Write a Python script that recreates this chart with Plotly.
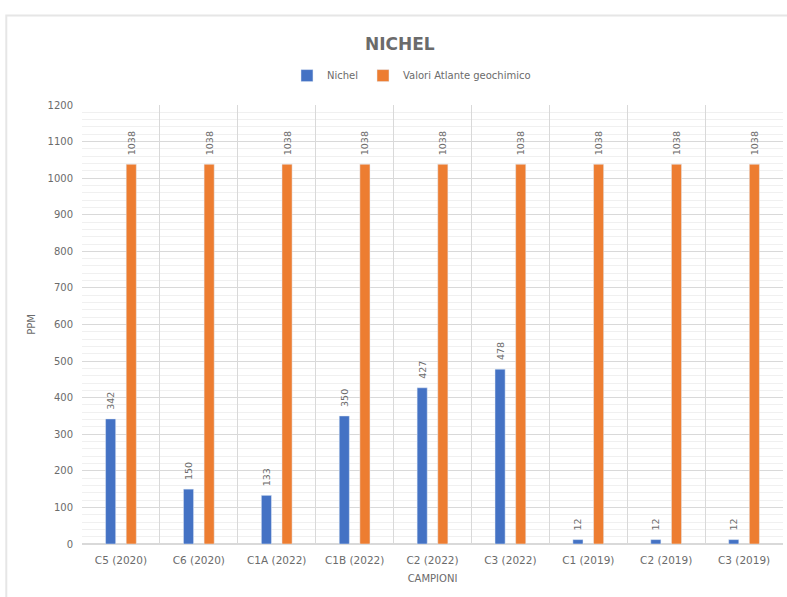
import plotly.graph_objects as go

categories = ["C5 (2020)", "C6 (2020)", "C1A (2022)", "C1B (2022)", "C2 (2022)",
              "C3 (2022)", "C1 (2019)", "C2 (2019)", "C3 (2019)"]
nichel = [342, 150, 133, 350, 427, 478, 12, 12, 12]
atlante = [1038, 1038, 1038, 1038, 1038, 1038, 1038, 1038, 1038]

FONT = "DejaVu Sans"
GRAY = "#6b6b6b"
PAD = "\u00a0\u00a0"

fig = go.Figure()
fig.add_trace(go.Bar(
    x=categories, y=nichel, name="Nichel", marker_color="#4472C4",
    text=[PAD + str(v) for v in nichel], textposition="outside", textangle=-90,
    constraintext="none",
    textfont=dict(size=9.5, color=GRAY, family=FONT), cliponaxis=False,
))
fig.add_trace(go.Bar(
    x=categories, y=atlante, name="Valori Atlante geochimico", marker_color="#ED7D31",
    text=[PAD + str(v) for v in atlante], textposition="outside", textangle=-90,
    constraintext="none",
    textfont=dict(size=9.5, color=GRAY, family=FONT), cliponaxis=False,
))

fig.update_layout(
    width=787, height=597,
    margin=dict(l=82, r=4, t=105, b=53),
    paper_bgcolor="white", plot_bgcolor="white",
    barmode="group", bargap=0.47, bargroupgap=0.51,
    font=dict(family=FONT, color=GRAY, size=10),
    title=dict(text="<b>NICHEL</b>", x=0.508, xanchor="center", y=0.926, yanchor="middle",
               font=dict(size=17, color=GRAY, family=FONT)),
    legend=dict(orientation="h", x=0.47, xanchor="center", y=1.067, yanchor="middle",
                font=dict(size=10, color=GRAY, family=FONT), itemwidth=30,
                bgcolor="rgba(0,0,0,0)"),
    showlegend=True,
)
fig.update_xaxes(
    type="category", tickson="boundaries", showgrid=True, gridcolor="#d9d9d9", gridwidth=1,
    showline=True, linecolor="#d9d9d9", ticks="", ticklabelstandoff=6,
    tickfont=dict(size=10.5, color=GRAY, family=FONT),
    title=dict(text="CAMPIONI", font=dict(size=10, color=GRAY, family=FONT), standoff=10),
)
fig.update_yaxes(
    range=[0, 1200], dtick=100, showgrid=True, gridcolor="#d9d9d9", gridwidth=1,
    minor=dict(dtick=20, showgrid=True, gridcolor="#f0f0f0", gridwidth=1),
    zeroline=True, zerolinecolor="#d9d9d9", showline=False, ticks="",
    ticklabelstandoff=8,
    tickfont=dict(size=10, color=GRAY, family=FONT),
    title=dict(text="PPM", font=dict(size=10, color=GRAY, family=FONT), standoff=10),
)
# light outer chart border (top and left visible in reference)
fig.add_shape(type="rect", xref="paper", yref="paper",
              x0=-0.108, x1=1.2, y0=-0.3, y1=1.204,
              line=dict(color="#e6e6e6", width=2), layer="below")

fig.write_html("out.html")
